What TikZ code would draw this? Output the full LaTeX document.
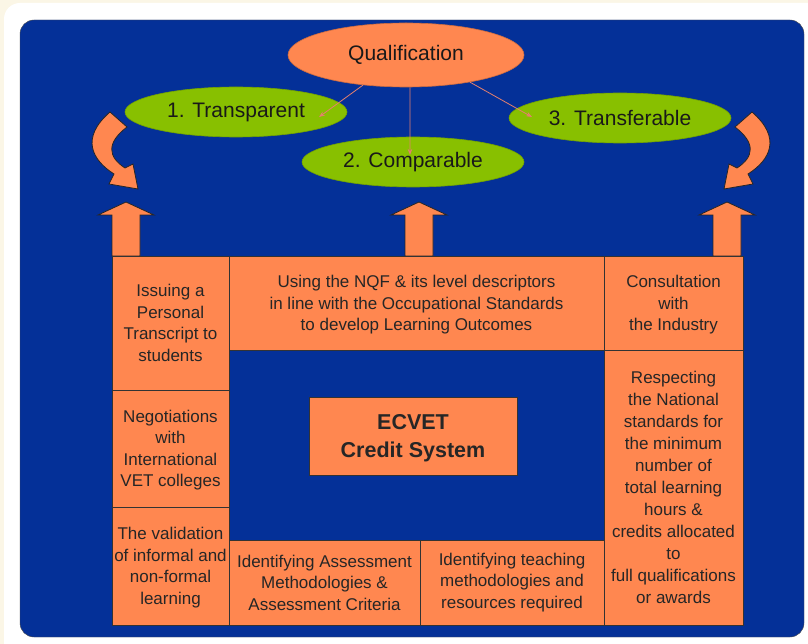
\documentclass[tikz,border=0pt]{standalone}
\usepackage{fontspec}
\setmainfont{Liberation Sans}
\usetikzlibrary{shapes.geometric,arrows.meta}
\definecolor{ecblue}{RGB}{4,48,152}
\definecolor{ecorange}{RGB}{255,135,80}
\definecolor{ecgreen}{RGB}{136,192,0}
\definecolor{eccream}{RGB}{251,246,230}
\definecolor{eclink}{RGB}{228,128,110}
\begin{document}
\begin{tikzpicture}[x=1pt,y=-1pt,
		box/.style={rectangle,draw=black!80,line width=0.8pt,fill=ecorange,text=black!85,align=center,inner sep=0pt,font=\fontsize{17}{21.5}\selectfont},
		aim/.style={ellipse,draw=ecgreen!85!black,line width=0.6pt,fill=ecgreen,text=black!90,minimum width=222,minimum height=50,inner sep=0pt,font=\fontsize{21}{24}\selectfont},
		blockarrow/.style={fill=ecorange,draw=black!85,line width=0.8pt,line join=miter},
		link/.style={eclink,line width=0.8pt,-{Stealth[length=6pt,width=4.5pt]}}]
				\useasboundingbox (0,0) rectangle (808,644);
				\fill[eccream] (0,0) rectangle (808,644);
				\fill[white,rounded corners=16] (4,3) rectangle (840,670);
				\draw[black!70,fill=ecblue,rounded corners=14] (20,20) rectangle (804,637);
				\node[aim,fill=ecorange,draw=ecorange!80!black,minimum width=236,minimum height=64] (qual) at (406,55) {Qualification};
				\node[aim] (transp) at (236,112) {1. Transparent};
				\node[aim] (compar) at (413,162) {2. Comparable};
				\node[aim] (transf) at (620,118) {3. Transferable};
				\draw[link] (qual.215) to ([shift={(83,5)}]transp.center);
				\draw[link] (qual.277) to ([shift={(-3,-7)}]compar.center);
				\draw[link] (qual.337) to ([shift={(-88,-1)}]transf.center);
				\draw[blockarrow] (110,112) to (127,127) .. controls (106,143) and (108,157) .. (125,168) to (133,164) to (138,189) to (109,184) to (114,174) .. controls (92,160) and (80,138) .. (110,112) to cycle;
				\begin{scope}[shift={(862,0)},xscale=-1]
					\draw[blockarrow] (110,112) to (127,127) .. controls (106,143) and (108,157) .. (125,168) to (133,164) to (138,189) to (109,184) to (114,174) .. controls (92,160) and (80,138) .. (110,112) to cycle;
				\end{scope}
				\foreach \xc in {126,419,727} \draw[blockarrow] (\xc-14,256) to (\xc-14,215) to (\xc-28,215) to (\xc,202) to (\xc+28,215) to (\xc+14,215) to (\xc+14,256) to cycle;
				\node[box,text depth=-4pt,minimum width=117,minimum height=134] (issue) at (170.5,323) {Issuing a\\Personal\\Transcript to\\students};
				\node[box,text depth=-4pt,minimum width=117,minimum height=117] (negot) at (170.5,448.5) {Negotiations\\with\\International\\VET colleges};
				\node[box,text depth=-4pt,minimum width=117,minimum height=118] (valid) at (170.5,566) {The validation\\of informal and\\non-formal\\learning};
				\node[box,text depth=-4pt,minimum width=375,minimum height=94] (nqf) at (416.5,303) {Using the NQF \& its level descriptors\\in line with the Occupational Standards\\to develop Learning Outcomes};
				\node[box,text depth=-4pt,minimum width=139,minimum height=94] (consult) at (673.5,303) {Consultation\\with\\the Industry};
				\node[box,text depth=-5pt,minimum width=139,minimum height=275,font=\fontsize{17}{22}\selectfont] (respect) at (673.5,487.5) {Respecting\\the National\\standards for\\the minimum\\number of\\total learning\\hours \&\\credits allocated\\to\\full qualifications\\or awards};
				\node[box,minimum width=191,minimum height=85] (assess) at (324.5,582.5) {Identifying Assessment\\Methodologies \&\\Assessment Criteria};
				\node[box,minimum width=184,minimum height=85] (teach) at (512,582.5) {Identifying teaching\\methodologies and\\resources required};
				\node[box,minimum width=208,minimum height=78,text depth=-4pt,font=\bfseries\fontsize{21.5}{28}\selectfont] (ecvet) at (413,436) {ECVET\\Credit System};
			\end{tikzpicture}
\end{document}
